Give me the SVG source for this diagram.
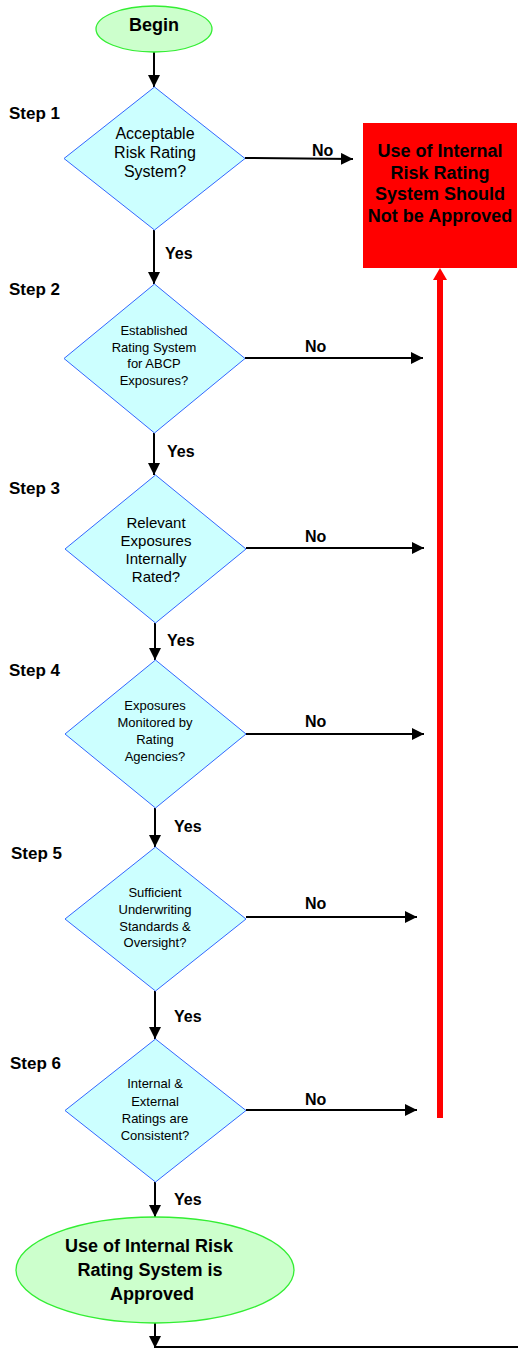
<svg xmlns="http://www.w3.org/2000/svg" width="518" height="1353" viewBox="0 0 518 1353">
<defs>
<marker id="ah" viewBox="0 0 10 10" refX="10" refY="5" markerWidth="6" markerHeight="6" markerUnits="strokeWidth" orient="auto">
<path d="M0,0 L10,5 L0,10 Z" fill="#000"/>
</marker>
<style>
text{font-family:"Liberation Sans",Arial,sans-serif;fill:#000;}
.b{font-weight:bold;}
.step{font-size:17px;font-weight:bold;}
.lbl{font-size:16px;font-weight:bold;}
.d{fill:#ccffff;stroke:#3366ff;stroke-width:1;}
.e{fill:#ccffcc;stroke:#33ee33;stroke-width:1.3;}
.c{fill:none;stroke:#000;stroke-width:2;}
.t13{font-size:13px;text-anchor:middle;}
.t15{font-size:15px;text-anchor:middle;}
.t16{font-size:16px;text-anchor:middle;}
</style>
</defs>
<rect width="518" height="1353" fill="#fff"/>

<g id="connectors">
<line class="c" x1="154" y1="52" x2="154" y2="87" marker-end="url(#ah)"/>
<line class="c" x1="154" y1="230" x2="154" y2="284" marker-end="url(#ah)"/>
<line class="c" x1="154" y1="433" x2="154" y2="475" marker-end="url(#ah)"/>
<line class="c" x1="155" y1="623" x2="155" y2="660" marker-end="url(#ah)"/>
<line class="c" x1="155" y1="808" x2="155" y2="847" marker-end="url(#ah)"/>
<line class="c" x1="155" y1="991" x2="155" y2="1039" marker-end="url(#ah)"/>
<line class="c" x1="155" y1="1182" x2="155" y2="1217" marker-end="url(#ah)"/>
<line class="c" x1="155" y1="1323" x2="155" y2="1348" marker-end="url(#ah)"/>
<line class="c" x1="155" y1="1347" x2="518" y2="1347"/>
<line class="c" x1="245" y1="158" x2="353" y2="159" marker-end="url(#ah)"/>
<line class="c" x1="245" y1="358" x2="423" y2="358" marker-end="url(#ah)"/>
<line class="c" x1="246" y1="548" x2="424" y2="548" marker-end="url(#ah)"/>
<line class="c" x1="246" y1="734" x2="424" y2="734" marker-end="url(#ah)"/>
<line class="c" x1="246" y1="917" x2="417" y2="917" marker-end="url(#ah)"/>
<line class="c" x1="246" y1="1110" x2="417" y2="1110" marker-end="url(#ah)"/>
<line x1="440" y1="1118" x2="440" y2="278" stroke="#ff0000" stroke-width="6"/>
<path d="M440,268 L447,280 L433,280 Z" fill="#ff0000"/>
<text class="lbl" x="165" y="259">Yes</text>
<text class="lbl" x="167" y="457">Yes</text>
<text class="lbl" x="167" y="646">Yes</text>
<text class="lbl" x="174" y="832">Yes</text>
<text class="lbl" x="174" y="1022">Yes</text>
<text class="lbl" x="174" y="1205">Yes</text>
<text class="lbl" x="312" y="156">No</text>
<text class="lbl" x="305" y="352">No</text>
<text class="lbl" x="305" y="542">No</text>
<text class="lbl" x="305" y="727">No</text>
<text class="lbl" x="305" y="909">No</text>
<text class="lbl" x="305" y="1105">No</text>
</g>

<g id="steps">
<text class="step" x="9" y="119">Step 1</text>
<text class="step" x="9" y="295">Step 2</text>
<text class="step" x="9" y="494">Step 3</text>
<text class="step" x="9" y="676">Step 4</text>
<text class="step" x="11" y="859">Step 5</text>
<text class="step" x="10" y="1069">Step 6</text>
</g>

<g id="begin">
<ellipse class="e" cx="154" cy="29" rx="58" ry="23"/>
<text class="b" x="154" y="31" font-size="18" text-anchor="middle">Begin</text>
</g>

<g id="step1">
<polygon class="d" points="154.5,87 245,158.5 154.5,230 64,158.5"/>
<text class="t16" x="155" y="139">Acceptable</text>
<text class="t16" x="155" y="158">Risk Rating</text>
<text class="t16" x="155" y="177">System?</text>
</g>

<g id="reject">
<rect x="363" y="123" width="154" height="145" fill="#ff0000"/>
<text class="b" x="440" y="157" font-size="18" text-anchor="middle">Use of Internal</text>
<text class="b" x="440" y="179" font-size="18" text-anchor="middle">Risk Rating</text>
<text class="b" x="440" y="200" font-size="18" text-anchor="middle">System Should</text>
<text class="b" x="440" y="222" font-size="18" text-anchor="middle">Not be Approved</text>
</g>

<g id="step2">
<polygon class="d" points="154.5,284 245,358.5 154.5,433 64,358.5"/>
<text class="t13" x="154" y="335">Established</text>
<text class="t13" x="154" y="352">Rating System</text>
<text class="t13" x="154" y="368">for ABCP</text>
<text class="t13" x="154" y="385">Exposures?</text>
</g>

<g id="step3">
<polygon class="d" points="155.5,475 246,549 155.5,623 65,549"/>
<text class="t15" x="156" y="528">Relevant</text>
<text class="t15" x="156" y="546">Exposures</text>
<text class="t15" x="156" y="564">Internally</text>
<text class="t15" x="156" y="582">Rated?</text>
</g>

<g id="step4">
<polygon class="d" points="155.5,660 246,734 155.5,808 65,734"/>
<text class="t13" x="155" y="710">Exposures</text>
<text class="t13" x="155" y="727">Monitored by</text>
<text class="t13" x="155" y="744">Rating</text>
<text class="t13" x="155" y="761">Agencies?</text>
</g>

<g id="step5">
<polygon class="d" points="155.5,847 246,919 155.5,991 65,919"/>
<text class="t13" x="155" y="897">Sufficient</text>
<text class="t13" x="155" y="914">Underwriting</text>
<text class="t13" x="155" y="931">Standards &amp;</text>
<text class="t13" x="155" y="947">Oversight?</text>
</g>

<g id="step6">
<polygon class="d" points="155.5,1039 246,1110.5 155.5,1182 65,1110.5"/>
<text class="t13" x="155" y="1088">Internal &amp;</text>
<text class="t13" x="155" y="1106">External</text>
<text class="t13" x="155" y="1123">Ratings are</text>
<text class="t13" x="155" y="1140">Consistent?</text>
</g>

<g id="approved">
<ellipse class="e" cx="155" cy="1270" rx="139" ry="53"/>
<text class="b" x="149" y="1252" font-size="18" text-anchor="middle">Use of Internal Risk</text>
<text class="b" x="150" y="1276" font-size="18" text-anchor="middle">Rating System is</text>
<text class="b" x="152" y="1300" font-size="18" text-anchor="middle">Approved</text>
</g>
</svg>
